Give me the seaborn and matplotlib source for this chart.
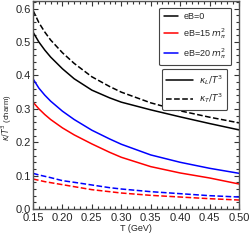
import matplotlib
matplotlib.use('Agg')
import matplotlib.pyplot as plt
import seaborn as sns
import pandas as pd
from matplotlib.lines import Line2D
from matplotlib.ticker import MultipleLocator

# Температура (ГэВ)
T = [0.15, 0.16, 0.17, 0.18, 0.20, 0.22, 0.25, 0.28, 0.30, 0.35, 0.40, 0.45, 0.50]

# kappa_L / T^3
kL_eB0 = [0.530, 0.500, 0.476, 0.455, 0.420, 0.390, 0.356, 0.333, 0.320, 0.297, 0.276, 0.256, 0.237]
kL_eB15 = [0.320, 0.300, 0.283, 0.268, 0.243, 0.222, 0.195, 0.170, 0.155, 0.127, 0.108, 0.093, 0.075]
kL_eB20 = [0.390, 0.362, 0.341, 0.323, 0.293, 0.268, 0.236, 0.210, 0.194, 0.162, 0.140, 0.122, 0.107]

# kappa_T / T^3
kT_eB0 = [0.595, 0.558, 0.530, 0.506, 0.468, 0.436, 0.396, 0.367, 0.350, 0.318, 0.294, 0.275, 0.258]
kT_eB15 = [0.090, 0.086, 0.082, 0.079, 0.073, 0.067, 0.058, 0.052, 0.048, 0.041, 0.036, 0.031, 0.027]
kT_eB20 = [0.107, 0.102, 0.098, 0.094, 0.085, 0.080, 0.072, 0.064, 0.060, 0.052, 0.046, 0.040, 0.036]

sns.set_style('ticks')
plt.rcParams['font.family'] = ['Liberation Sans', 'DejaVu Sans']
plt.rcParams['mathtext.fontset'] = 'dejavusans'

fig = plt.figure(figsize=(2.5, 2.4), dpi=100)
ax = fig.add_axes([0.132, 0.129, 0.824, 0.867])

series = [
    (kL_eB0, 'black', '-'),
    (kL_eB15, 'red', '-'),
    (kL_eB20, 'blue', '-'),
    (kT_eB0, 'black', '--'),
    (kT_eB15, 'red', '--'),
    (kT_eB20, 'blue', '--'),
]
for vals, color, ls in series:
    df = pd.DataFrame({'T': T, 'k': vals})
    sns.lineplot(data=df, x='T', y='k', color=color, linestyle=ls, linewidth=1.1, ax=ax)

ax.set_xlim(0.15, 0.50)
ax.set_ylim(0.0, 0.623)
ax.xaxis.set_major_locator(MultipleLocator(0.05))
ax.xaxis.set_minor_locator(MultipleLocator(0.01))
ax.yaxis.set_major_locator(MultipleLocator(0.1))
ax.yaxis.set_minor_locator(MultipleLocator(0.02))
ax.set_xticklabels([f'{v:.2f}' for v in ax.get_xticks()])
ax.set_yticklabels([f'{v:.1f}' for v in ax.get_yticks()])
ax.tick_params(which='both', direction='in', top=True, right=True, labelsize=8,
               color='#333333', width=0.8)
ax.tick_params(axis='x', pad=3)
ax.tick_params(axis='y', pad=1.2)
ax.tick_params(which='major', length=3.5)
ax.tick_params(which='minor', length=2)
for sp in ax.spines.values():
    sp.set_color('#555555')
    sp.set_linewidth(1.0)

ax.set_xlabel('T (GeV)', fontsize=6.5, labelpad=0.5)
ax.set_ylabel(r'$\kappa/T^3$ (charm)', fontsize=5.6)
ax.yaxis.set_label_coords(-0.092, 0.44)

h1 = [Line2D([], [], color='black', lw=1.1),
      Line2D([], [], color='red', lw=1.1),
      Line2D([], [], color='blue', lw=1.1)]
leg1 = ax.legend(h1, ['eB=0', r'eB=15 $m_\pi^2$', r'eB=20 $m_\pi^2$'],
                 loc='upper right', bbox_to_anchor=(0.985, 0.99), fontsize=6.5,
                 handlelength=1.6, handletextpad=0.6, labelspacing=0.55,
                 borderpad=0.5, fancybox=True, framealpha=1, edgecolor='#444444')
leg1.get_frame().set_linewidth(0.8)
ax.add_artist(leg1)

h2 = [Line2D([], [], color='black', lw=1.1, ls='-'),
      Line2D([], [], color='black', lw=1.1, ls='--')]
leg2 = ax.legend(h2, [r'$\kappa_L/T^3$', r'$\kappa_T/T^3$'],
                 loc='upper right', bbox_to_anchor=(0.966, 0.697), fontsize=6.5,
                 handlelength=3.0, handletextpad=0.6, labelspacing=0.5,
                 borderpad=0.5, fancybox=True, framealpha=1, edgecolor='#444444')
leg2.get_frame().set_linewidth(0.8)

fig.savefig('out.png', dpi=100)
